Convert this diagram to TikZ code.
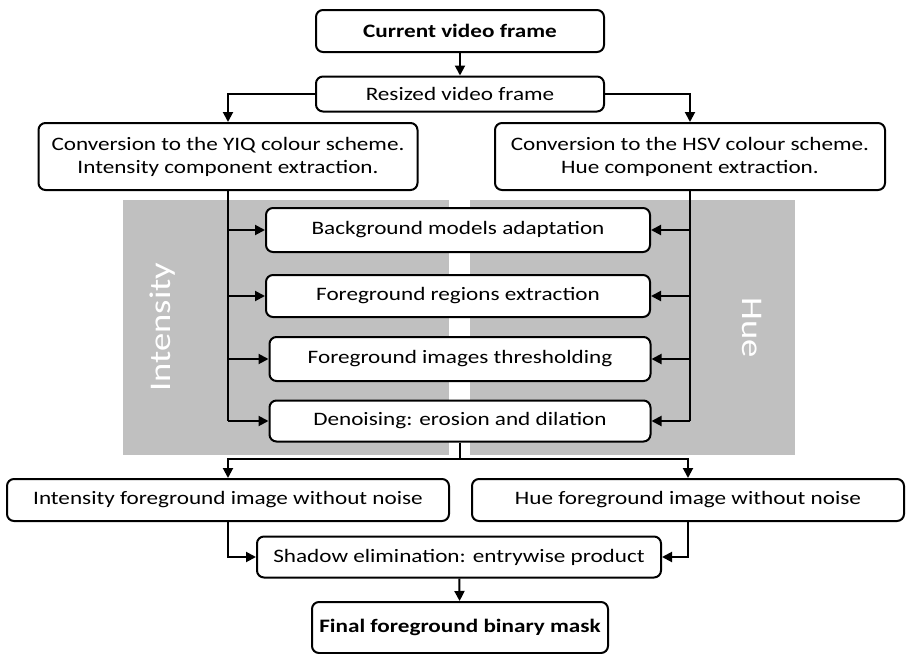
\documentclass[tikz,border=0pt]{standalone}
\usepackage{fontspec}
\setmainfont{Carlito}[FakeStretch=1.22]
\usetikzlibrary{arrows.meta}
\definecolor{panelgray}{HTML}{C0C0C0}
\begin{document}
\begin{tikzpicture}[x=1pt, y=-1pt,
		box/.style = {draw, line width=2pt, rounded corners=7pt, fill=white, inner sep=2pt, align=center, font=\fontsize{19}{23}\selectfont},
		arr/.style = {line width=2pt, -{Triangle[length=10pt, width=10pt]}},
		lin/.style = {line width=2pt},
		side/.style = {text=white, font=\fontsize{30}{34}\selectfont}]
		%%%%%%%%%%%%%
		\useasboundingbox (0, 0) rectangle (906, 654);
		\fill[panelgray] (123, 200) rectangle (449, 455);
		\fill[panelgray] (470, 200) rectangle (795, 455);
		\node[side, rotate = 90] (intlabel) at (163, 327) {Intensity};
		\node[side, rotate = -90] (huelabel) at (752, 328) {Hue};
		%%%%%%%%%%%%%
		\node[box, minimum width = 288, minimum height = 42, font=\fontsize{19}{23}\selectfont\bfseries] (cur) at (460, 31) {Current video frame};
		\node[box, minimum width = 288, minimum height = 35] (res) at (460, 94) {Resized video frame};
		\node[box, minimum width = 379, minimum height = 67] (yiq) at (228, 156.5) {Conversion to the YIQ colour scheme.\\ Intensity component extraction.};
		\node[box, minimum width = 390, minimum height = 67] (hsv) at (690, 156.5) {Conversion to the HSV colour scheme.\\ Hue component extraction.};
		\node[box, minimum width = 384, minimum height = 44] (bgm) at (458, 230) {Background models adaptation};
		\node[box, minimum width = 384, minimum height = 42] (fgr) at (458, 296) {Foreground regions extraction};
		\node[box, minimum width = 381, minimum height = 44] (thr) at (460, 359) {Foreground images thresholding};
		\node[box, minimum width = 381, minimum height = 41] (den) at (460, 421) {Denoising: erosion and dilation};
		\node[box, minimum width = 442, minimum height = 42] (ifg) at (228, 500) {Intensity foreground image without noise};
		\node[box, minimum width = 432, minimum height = 42] (hfg) at (688, 500) {Hue foreground image without noise};
		\node[box, minimum width = 404, minimum height = 41] (sha) at (459, 557) {Shadow elimination: entrywise product};
		\node[box, minimum width = 296, minimum height = 51, font=\fontsize{19}{23}\selectfont\bfseries] (fin) at (460, 627.5) {Final foreground binary mask};
		\coordinate (split) at (460, 459);
		%%%%%%%%%%%%%
		\draw[arr] (cur) to (res);
		\draw[arr] (res.west) -| (yiq.north);
		\draw[arr] (res.east) -| (hsv.north);
		\draw[lin] (yiq.south) to (yiq.south |- den.west);
		\draw[lin] (hsv.south) to (hsv.south |- den.east);
		\foreach \n in {bgm, fgr, thr, den} {
			\draw[arr] (yiq.south |- \n.west) to (\n.west);
			\draw[arr] (hsv.south |- \n.east) to (\n.east);
		}
		\draw[lin] (den.south) to (split);
		\draw[arr] (split) -| (ifg.north);
		\draw[arr] (split) -| (hfg.north);
		\draw[arr] (ifg.south) |- (sha.west);
		\draw[arr] (hfg.south) |- (sha.east);
		\draw[arr] (sha) to (fin);
		%%%%%%%%%%%%%%
	\end{tikzpicture}
\end{document}
